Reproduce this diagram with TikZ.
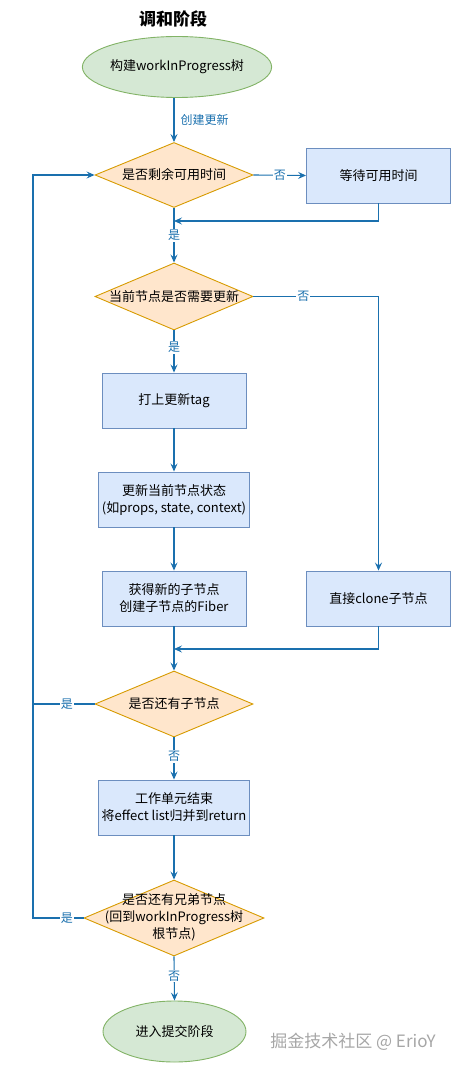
\documentclass[tikz,border=0pt]{standalone}
\usepackage{fontspec}
\setmainfont{Noto Sans CJK SC}
\usetikzlibrary{shapes.geometric,arrows.meta}
\definecolor{flow}{HTML}{1A70AE}
\definecolor{dfill}{HTML}{FFE6CC}
\definecolor{ddraw}{HTML}{D79B00}
\definecolor{bfill}{HTML}{DAE8FC}
\definecolor{bdraw}{HTML}{6C8EBF}
\definecolor{efill}{HTML}{D5E8D4}
\definecolor{edraw}{HTML}{82B366}
\begin{document}
\begin{tikzpicture}[x=1pt,y=-1pt,
  txt/.style={font=\fontsize{13}{17}\selectfont, text=black},
  dia/.style={diamond, draw=ddraw, fill=dfill, line width=0.9pt, inner sep=0pt, minimum width=158pt, minimum height=65pt, txt},
  boxn/.style={rectangle, draw=bdraw, fill=bfill, line width=0.9pt, minimum width=144pt, minimum height=55pt, align=center, txt},
  ell/.style={ellipse, draw=edraw, fill=efill, line width=0.9pt, minimum width=143pt, minimum height=61pt, inner sep=0pt, txt},
  flowline/.style={draw=flow, line width=1.1pt},
  arr/.style={flowline, -{Stealth[length=8pt,width=7pt,inset=3pt]}},
  lbl/.style={fill=white, inner sep=1pt, text=flow, font=\fontsize{12}{14}\selectfont}
]
\useasboundingbox (0,0) rectangle (457,1067);

\node[font=\fontsize{17}{20}\selectfont\bfseries] (title) at (173,19) {调和阶段};

\node[ell] (e1) at (177,67) {构建workInProgress树};
\node[dia] (d1) at (174,175) {\makebox[0pt]{是否剩余可用时间}};
\node[boxn] (wait) at (378.5,175.5) {等待可用时间};
\coordinate (m1) at (174,221);
\node[dia, minimum height=67pt] (d2) at (174,296.5) {\makebox[0pt]{当前节点是否需要更新}};
\node[boxn] (b1) at (174,400.5) {打上更新tag};
\node[boxn] (b2) at (174,499.5) {更新当前节点状态\\(如props, state, context)};
\node[boxn] (b3) at (174,598.5) {获得新的子节点\\创建子节点的Fiber};
\node[boxn] (clone) at (378.5,598.5) {直接clone子节点};
\coordinate (m2) at (174,649);
\node[dia, minimum height=66pt] (d3) at (174,704) {\makebox[0pt]{是否还有子节点}};
\node[boxn] (b4) at (174,807.5) {工作单元结束\\将effect list归并到return};
\node[dia, minimum width=180pt, minimum height=76pt] (d4) at (174,918) {\makebox[0pt]{\begin{tabular}{@{}c@{}}是否还有兄弟节点\\(回到workInProgress树\\根节点)\end{tabular}}};
\node[ell] (e2) at (174.5,1031.5) {进入提交阶段};
\coordinate (l1) at (33,704);
\coordinate (l2) at (33,918);

\node[text=black!35, font=\fontsize{17}{20}\selectfont] (wm) at (353,1042) {掘金技术社区 @ ErioY};

\draw[arr] (e1.south -| d1.north) -- node[lbl, right, xshift=5pt, fill=none]{创建更新} (d1.north);
\draw[arr] (d1.east) -- node[lbl]{否} (wait.west);
\draw[arr] (wait.south) |- (m1);
\draw[arr] (d1.south) -- node[lbl]{是} (d2.north);
\draw[arr] (d2.east) -| node[lbl, pos=0.2]{否} (clone.north);
\draw[arr] (d2.south) -- node[lbl, pos=0.4]{是} (b1.north);
\draw[arr] (b1.south) -- (b2.north);
\draw[arr] (b2.south) -- (b3.north);
\draw[arr] (clone.south) |- (m2);
\draw[arr] (b3.south) -- (d3.north);
\draw[arr] (d3.west) -- node[lbl, pos=0.45]{是} (l1) |- (d1.west);
\draw[arr] (d3.south) -- node[lbl, pos=0.45]{否} (b4.north);
\draw[arr] (b4.south) -- (d4.north);
\draw[flowline] (d4.west) -- node[lbl, pos=0.33]{是} (l2) -- (l1);
\draw[arr] (d4.south) -- node[lbl, pos=0.45]{否} (e2.north);
\end{tikzpicture}
\end{document}
